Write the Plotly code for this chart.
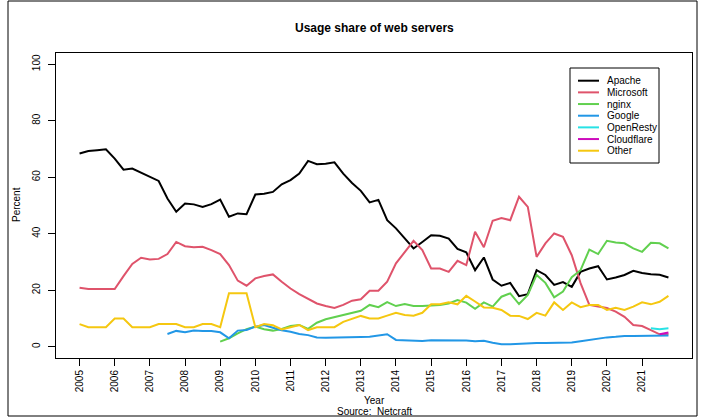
import plotly.graph_objects as go

# ---- data (quarterly, 2005.00 .. 2021.75) ----
years = [2005 + 0.25 * i for i in range(68)]

apache = [68.4, 69.3, 69.6, 69.9, 66.6, 62.7, 63.1, 61.7, 60.2, 58.7,
          52.5, 47.8, 50.7, 50.4, 49.5, 50.5, 52.1, 46.0, 47.2, 46.9,
          53.9, 54.2, 54.8, 57.5, 59.0, 61.3, 65.8, 64.6, 64.8, 65.3,
          61.3, 58.0, 55.2, 51.1, 52.0, 44.8, 41.9, 38.3, 34.8, 37.1,
          39.5, 39.3, 38.3, 34.6, 33.4, 27.1, 31.6, 23.8, 21.6, 22.6,
          17.9, 18.6, 27.1, 25.4, 21.9, 22.9, 21.2, 26.5, 27.7, 28.5,
          23.8, 24.5, 25.4, 26.9, 26.1, 25.7, 25.5, 24.5]

microsoft = [20.9, 20.4, 20.4, 20.4, 20.4, 25.0, 29.3, 31.5, 30.9, 31.1,
             32.8, 37.1, 35.6, 35.2, 35.4, 34.2, 32.8, 28.9, 23.4, 21.6,
             24.2, 25.0, 25.6, 23.0, 20.6, 18.6, 16.8, 15.3, 14.4, 13.7,
             14.8, 16.3, 16.8, 19.8, 19.8, 23.0, 29.5, 33.6, 37.5, 34.2,
             27.7, 27.7, 26.5, 30.4, 28.9, 40.7, 35.2, 44.6, 45.6, 44.8,
             53.1, 49.5, 31.8, 36.6, 40.1, 38.9, 32.4, 22.5, 14.8, 14.2,
             13.7, 12.4, 10.6, 7.7, 7.3, 5.9, 4.4, 4.4]

nginx = [None] * 16 + [
    1.8, 3.0, 4.7, 6.2,
    7.1, 6.2, 5.7, 6.3, 7.3, 7.7, 6.3, 8.5, 9.7, 10.4,
    11.2, 12.0, 12.7, 14.8, 14.0, 15.8, 14.4, 15.1, 14.4, 14.4,
    14.5, 14.8, 15.3, 16.5, 15.6, 13.4, 15.7, 14.2, 17.7, 18.9,
    15.1, 18.3, 25.4, 22.6, 17.5, 19.5, 24.6, 27.1, 34.4, 32.8,
    37.5, 36.9, 36.6, 34.8, 33.6, 36.8, 36.6, 34.8]

google = [None] * 10 + [
    4.5, 5.6, 5.1, 5.7, 5.6, 5.6, 5.1, 3.0, 5.7, 5.9,
    7.1, 7.7, 6.7, 5.8, 5.3, 4.5, 4.1, 3.3, 3.2, 3.2,
    3.3, 3.4, 3.4, 3.5, 3.9, 4.4, 2.4, 2.2, 2.1, 2.0,
    2.3, 2.3, 2.2, 2.1, 2.2, 1.9, 2.1, 1.4, 0.9, 0.9,
    1.1, 1.2, 1.3, 1.3, 1.4, 1.4, 1.5, 1.9, 2.4, 2.8,
    3.3, 3.5, 3.8, 3.8, 3.9, 3.9, 4.0, 4.0]

openresty = [None] * 65 + [6.5, 6.2, 6.5]

cloudflare = [None] * 66 + [4.4, 5.0]

other = [8.0, 6.9, 6.9, 6.9, 10.0, 10.0, 6.9, 6.9, 6.9, 8.0,
         8.0, 8.0, 6.9, 6.9, 8.0, 8.0, 6.9, 18.9, 18.9, 18.9,
         6.9, 8.0, 7.6, 6.1, 6.9, 7.7, 5.9, 6.9, 6.9, 6.9,
         8.8, 9.8, 10.9, 10.0, 10.0, 11.0, 12.0, 11.2, 11.0, 12.0,
         15.0, 15.0, 15.7, 15.0, 18.0, 16.0, 13.9, 13.8, 13.0, 11.0,
         10.9, 9.8, 12.0, 11.0, 15.7, 13.0, 15.7, 14.0, 14.8, 14.8,
         13.0, 13.8, 13.0, 14.2, 15.7, 15.0, 15.9, 18.0]

series_names = ["Apache", "Microsoft", "nginx", "Google", "OpenResty", "Cloudflare", "Other"]
series_values = [apache, microsoft, nginx, google, openresty, cloudflare, other]
series_colors = ["#000000", "#DF536B", "#61D04F", "#2297E6", "#28E2E5", "#CD0BBC", "#F5C710"]

x_ticks = list(range(2005, 2022))
y_ticks = [0, 20, 40, 60, 80, 100]

# ---- layout geometry (pixels) ----
W, H = 707, 418
L, R, T, B = 56, 692, 53, 358
FONT = "Liberation Sans, Arial, Helvetica, sans-serif"


def px(x):
    return (x - L) / (R - L)


def py(y):
    return (B - y) / (B - T)


fig = go.Figure()
for name, vals, col in zip(series_names, series_values, series_colors):
    fig.add_trace(go.Scatter(x=years, y=vals, mode="lines", name=name,
                             line=dict(color=col, width=2), connectgaps=False,
                             showlegend=False))

# x range with R's 4% extension
x0, x1 = years[0], years[-1]
ext = 0.04 * (x1 - x0)

fig.update_layout(
    width=W, height=H,
    margin=dict(l=L, r=W - R, t=T, b=H - B, pad=0),
    paper_bgcolor="white", plot_bgcolor="white",
    font=dict(family=FONT, size=10, color="black"),
    showlegend=False,
    xaxis=dict(range=[x0 - ext, x1 + ext], tickvals=x_ticks,
               ticktext=[str(v) for v in x_ticks], tickangle=-90,
               ticks="outside", ticklen=7, tickwidth=1, tickcolor="black",
               showline=True, mirror=True, linecolor="black", linewidth=1,
               showgrid=False, zeroline=False, tickfont=dict(size=10)),
    yaxis=dict(range=[-4, 104], tickvals=y_ticks,
               ticktext=[str(v) for v in y_ticks], tickangle=-90,
               ticks="outside", ticklen=7, tickwidth=1, tickcolor="black",
               showline=True, mirror=True, linecolor="black", linewidth=1,
               showgrid=False, zeroline=False, tickfont=dict(size=10),
               ticklabelstandoff=4),
)

ann = [
    dict(text="<b>Usage share of web servers</b>", x=px(374), y=py(28),
         font=dict(size=12)),
    dict(text="Year", x=px(374), y=py(400), font=dict(size=10)),
    dict(text="Source:  Netcraft", x=px(374), y=py(411), font=dict(size=10)),
    dict(text="Percent", x=px(16), y=py(205), textangle=-90, font=dict(size=10)),
]
for a in ann:
    a.update(xref="paper", yref="paper", showarrow=False,
             xanchor="center", yanchor="middle")
    fig.add_annotation(**a)

# custom legend (R style)
shapes = [dict(type="rect", xref="paper", yref="paper",
               x0=px(570), x1=px(659), y0=py(68), y1=py(163),
               line=dict(color="black", width=1), fillcolor="white", layer="above")]
item_y0, item_dy = 80.7, 11.67
for k, (name, col) in enumerate(zip(series_names, series_colors)):
    yy = item_y0 + k * item_dy
    shapes.append(dict(type="line", xref="paper", yref="paper",
                       x0=px(578), x1=px(599), y0=py(yy), y1=py(yy),
                       line=dict(color=col, width=2), layer="above"))
    fig.add_annotation(text=name, xref="paper", yref="paper", x=px(605), y=py(yy),
                       xanchor="left", yanchor="middle", showarrow=False,
                       font=dict(size=10))

# outer frame of the image
shapes.append(dict(type="rect", xref="paper", yref="paper",
                   x0=px(8), x1=px(697), y0=py(416), y1=py(1),
                   line=dict(color="black", width=1), layer="above"))
fig.update_layout(shapes=shapes)

fig.write_html("out.html")
